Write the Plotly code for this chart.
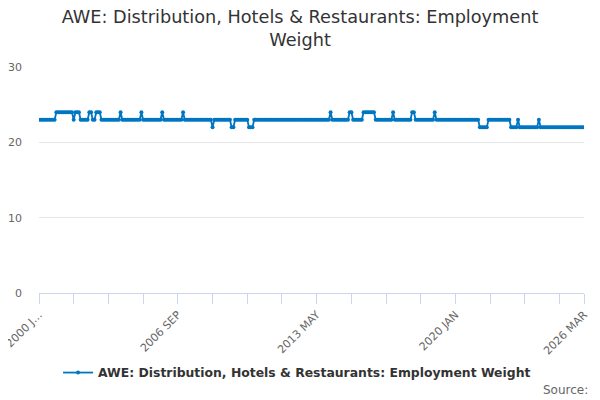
import plotly.graph_objects as go

# Month labels, 2000 JAN .. 2026 MAR
month_names = ["JAN", "FEB", "MAR", "APR", "MAY", "JUN",
               "JUL", "AUG", "SEP", "OCT", "NOV", "DEC"]
months = [f"{y} {m}" for y in range(2000, 2027) for m in month_names][:315]

# Employment weight
weights = (
    [23] * 10 + [24] * 10 + [23] + [24] * 3            # 2000 JAN - 2001 DEC
    + [23] * 5 + [24] * 2 + [23] * 2 + [24] * 3        # 2002
    + [23] * 11 + [24]                                 # 2003
    + [23] * 11 + [24]                                 # 2004
    + [23] * 11 + [24]                                 # 2005
    + [23] * 11 + [24]                                 # 2006
    + [23] * 16 + [22]                                 # 2007 JAN - 2008 MAY
    + [23] * 10 + [22] * 2                             # 2008 JUN - 2009 MAY
    + [23] * 8 + [22] * 3                              # 2009 JUN - 2010 APR
    + [23] * 44 + [24]                                 # 2010 MAY - 2014 JAN
    + [23] * 10 + [24] * 2                             # 2014 FEB - 2015 JAN
    + [23] * 6 + [24] * 7                              # 2015 FEB - 2016 FEB
    + [23] * 10 + [24]                                 # 2016 MAR - 2017 JAN
    + [23] * 10 + [24] * 2                             # 2017 FEB - 2018 FEB
    + [23] * 11 + [24]                                 # 2018 MAR - 2019 FEB
    + [23] * 25 + [22] * 5                             # 2019 MAR - 2021 JUL
    + [23] * 13 + [22] * 4 + [23]                      # 2021 AUG - 2023 JAN
    + [22] * 11 + [23]                                 # 2023 FEB - 2024 JAN
    + [22] * 26                                        # 2024 FEB - 2026 MAR
)

tick_every = list(range(0, 301, 20)) + [314]
tick_labels = {0: "2000 J…", 80: "2006 SEP", 160: "2013 MAY",
               240: "2020 JAN", 314: "2026 MAR"}

series_name = "AWE: Distribution, Hotels & Restaurants: Employment Weight"
blue = "#0076c3"

fig = go.Figure()
fig.add_trace(go.Scatter(
    x=months[:len(weights)],
    y=weights,
    mode="lines+markers",
    name=series_name,
    line=dict(color=blue, width=1.8),
    marker=dict(color=blue, size=4),
))

# page body has an 8px margin, so the plot is offset by that much
fig.update_layout(
    width=600,
    height=400,
    font=dict(family="DejaVu Sans", color="#333333"),
    paper_bgcolor="white",
    plot_bgcolor="white",
    margin=dict(l=31, r=24, t=59, b=115),
    title=dict(
        text="AWE: Distribution, Hotels & Restaurants: Employment<br>Weight",
        x=0.4867, xanchor="center", y=0.962, yanchor="top",
        font=dict(size=17.7, color="#333333"),
    ),
    showlegend=True,
    legend=dict(
        orientation="h", x=0.4735, xanchor="center", y=-0.354, yanchor="middle",
        itemwidth=30,
        font=dict(size=12.4, color="#333333", weight="bold"),
    ),
    annotations=[dict(
        text="Source:", xref="paper", yref="paper", x=1.011, y=-0.43,
        xanchor="right", yanchor="middle", showarrow=False,
        font=dict(size=12, color="#666666"),
    )],
)

fig.update_xaxes(
    type="category",
    automargin=False,
    range=[0, len(months) - 1],
    tickmode="array",
    tickvals=[months[i] for i in tick_every],
    ticktext=[tick_labels.get(i, "") for i in tick_every],
    tickangle=-45,
    ticks="outside", ticklen=10, tickcolor="#ccd6eb",
    showline=True, linecolor="#ccd6eb", linewidth=1,
    showgrid=False, zeroline=False,
    tickfont=dict(size=11, color="#666666"),
)
fig.update_yaxes(
    automargin=False,
    range=[0, 30],
    tickvals=[0, 10, 20, 30],
    showgrid=True, gridcolor="#e6e6e6",
    zeroline=False, showline=False,
    ticklabelstandoff=16,
    tickfont=dict(size=11, color="#666666"),
)

fig.write_html("out.html")
